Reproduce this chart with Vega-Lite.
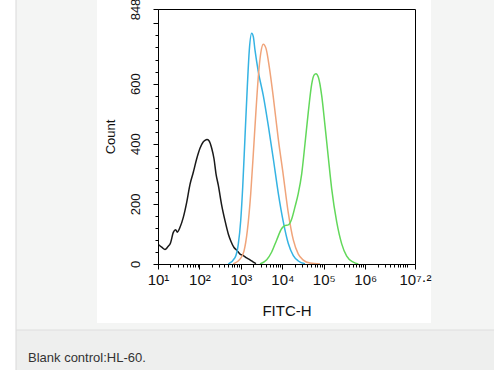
{
  "$schema": "https://vega.github.io/schema/vega-lite/v6.json",
  "width": 257,
  "height": 255,
  "autosize": {"type": "none"},
  "padding": {"left": 158, "top": 9, "right": 79, "bottom": 106},
  "background": "white",
  "config": {"view": {"stroke": "#000", "strokeWidth": 1}, "font": "Liberation Sans"},
  "title": {"text": "Blank control:HL-60.", "orient": "bottom", "anchor": "start", "frame": "group", "dx": -130, "offset": -18, "fontSize": 13, "fontWeight": "normal", "font": "Liberation Sans", "color": "#333333", "zindex": 1},
  "layer": [
    {
      "data": {"values": [
        {"series": "Blank control", "fitc": 10.17, "count": 65},
        {"series": "Blank control", "fitc": 12.49, "count": 55},
        {"series": "Blank control", "fitc": 14.75, "count": 48},
        {"series": "Blank control", "fitc": 17.43, "count": 58},
        {"series": "Blank control", "fitc": 20.03, "count": 70},
        {"series": "Blank control", "fitc": 23.39, "count": 105},
        {"series": "Blank control", "fitc": 26.73, "count": 114},
        {"series": "Blank control", "fitc": 29.22, "count": 106},
        {"series": "Blank control", "fitc": 33.95, "count": 122},
        {"series": "Blank control", "fitc": 40.76, "count": 155},
        {"series": "Blank control", "fitc": 49.24, "count": 205},
        {"series": "Blank control", "fitc": 59.16, "count": 265},
        {"series": "Blank control", "fitc": 71.06, "count": 305},
        {"series": "Blank control", "fitc": 85.82, "count": 350},
        {"series": "Blank control", "fitc": 103.1, "count": 385},
        {"series": "Blank control", "fitc": 121.8, "count": 405},
        {"series": "Blank control", "fitc": 136.1, "count": 411},
        {"series": "Blank control", "fitc": 152.1, "count": 414},
        {"series": "Blank control", "fitc": 169.9, "count": 410},
        {"series": "Blank control", "fitc": 197.5, "count": 385},
        {"series": "Blank control", "fitc": 224.4, "count": 350},
        {"series": "Blank control", "fitc": 250.7, "count": 300},
        {"series": "Blank control", "fitc": 284.9, "count": 262},
        {"series": "Blank control", "fitc": 344.2, "count": 195},
        {"series": "Blank control", "fitc": 413.4, "count": 144},
        {"series": "Blank control", "fitc": 496.5, "count": 100},
        {"series": "Blank control", "fitc": 576.9, "count": 75},
        {"series": "Blank control", "fitc": 681.4, "count": 55},
        {"series": "Blank control", "fitc": 805.2, "count": 45},
        {"series": "Blank control", "fitc": 951.0, "count": 33},
        {"series": "Blank control", "fitc": 1142, "count": 28},
        {"series": "Blank control", "fitc": 1380, "count": 20},
        {"series": "Blank control", "fitc": 1657, "count": 14},
        {"series": "Blank control", "fitc": 1958, "count": 7},
        {"series": "Blank control", "fitc": 2313, "count": 1},
        {"series": "Control 1", "fitc": 496.5, "count": 0},
        {"series": "Control 1", "fitc": 720.3, "count": 21},
        {"series": "Control 1", "fitc": 865.5, "count": 66},
        {"series": "Control 1", "fitc": 988.8, "count": 144},
        {"series": "Control 1", "fitc": 1105, "count": 255},
        {"series": "Control 1", "fitc": 1255, "count": 422},
        {"series": "Control 1", "fitc": 1427, "count": 589},
        {"series": "Control 1", "fitc": 1594, "count": 711},
        {"series": "Control 1", "fitc": 1821, "count": 767},
        {"series": "Control 1", "fitc": 1991, "count": 756},
        {"series": "Control 1", "fitc": 2188, "count": 711},
        {"series": "Control 1", "fitc": 2628, "count": 640},
        {"series": "Control 1", "fitc": 3470, "count": 560},
        {"series": "Control 1", "fitc": 4581, "count": 460},
        {"series": "Control 1", "fitc": 6046, "count": 350},
        {"series": "Control 1", "fitc": 7985, "count": 235},
        {"series": "Control 1", "fitc": 10540, "count": 140},
        {"series": "Control 1", "fitc": 13910, "count": 68},
        {"series": "Control 1", "fitc": 18370, "count": 28},
        {"series": "Control 1", "fitc": 24250, "count": 10},
        {"series": "Control 1", "fitc": 35180, "count": 1},
        {"series": "Control 2", "fitc": 655.4, "count": 0},
        {"series": "Control 2", "fitc": 951, "count": 16},
        {"series": "Control 2", "fitc": 1188, "count": 43},
        {"series": "Control 2", "fitc": 1427, "count": 110},
        {"series": "Control 2", "fitc": 1723, "count": 233},
        {"series": "Control 2", "fitc": 1991, "count": 366},
        {"series": "Control 2", "fitc": 2313, "count": 511},
        {"series": "Control 2", "fitc": 2628, "count": 622},
        {"series": "Control 2", "fitc": 3003, "count": 700},
        {"series": "Control 2", "fitc": 3470, "count": 731},
        {"series": "Control 2", "fitc": 4030, "count": 717},
        {"series": "Control 2", "fitc": 4843, "count": 655},
        {"series": "Control 2", "fitc": 6046, "count": 555},
        {"series": "Control 2", "fitc": 7985, "count": 415},
        {"series": "Control 2", "fitc": 10540, "count": 295},
        {"series": "Control 2", "fitc": 13910, "count": 170},
        {"series": "Control 2", "fitc": 18370, "count": 80},
        {"series": "Control 2", "fitc": 24250, "count": 33},
        {"series": "Control 2", "fitc": 32020, "count": 13},
        {"series": "Control 2", "fitc": 46440, "count": 3},
        {"series": "Control 2", "fitc": 80930, "count": 0},
        {"series": "Antibody", "fitc": 2888, "count": 0},
        {"series": "Antibody", "fitc": 4192, "count": 14},
        {"series": "Antibody", "fitc": 5533, "count": 40},
        {"series": "Antibody", "fitc": 7305, "count": 80},
        {"series": "Antibody", "fitc": 9643, "count": 118},
        {"series": "Antibody", "fitc": 11580, "count": 128},
        {"series": "Antibody", "fitc": 13910, "count": 130},
        {"series": "Antibody", "fitc": 16810, "count": 150},
        {"series": "Antibody", "fitc": 20180, "count": 190},
        {"series": "Antibody", "fitc": 24250, "count": 235},
        {"series": "Antibody", "fitc": 29290, "count": 300},
        {"series": "Antibody", "fitc": 35180, "count": 400},
        {"series": "Antibody", "fitc": 42240, "count": 505},
        {"series": "Antibody", "fitc": 51050, "count": 598},
        {"series": "Antibody", "fitc": 58000, "count": 628},
        {"series": "Antibody", "fitc": 64800, "count": 633},
        {"series": "Antibody", "fitc": 73640, "count": 622},
        {"series": "Antibody", "fitc": 88950, "count": 560},
        {"series": "Antibody", "fitc": 106800, "count": 460},
        {"series": "Antibody", "fitc": 128300, "count": 355},
        {"series": "Antibody", "fitc": 155000, "count": 250},
        {"series": "Antibody", "fitc": 204700, "count": 140},
        {"series": "Antibody", "fitc": 270200, "count": 67},
        {"series": "Antibody", "fitc": 356700, "count": 26},
        {"series": "Antibody", "fitc": 514600, "count": 6},
        {"series": "Antibody", "fitc": 679000, "count": 0}
      ]},
      "mark": {"type": "line", "strokeWidth": 1.5, "interpolate": "monotone"},
      "encoding": {
        "x": {
          "field": "fitc", "type": "quantitative",
          "scale": {"type": "log", "domain": [10, 15848932], "nice": false},
          "axis": {
            "title": "FITC-H",
            "values": [10,20,30,40,50,60,70,80,90,100,200,300,400,500,600,700,800,900,1000,2000,3000,4000,5000,6000,7000,8000,9000,10000,20000,30000,40000,50000,60000,70000,80000,90000,100000,200000,300000,400000,500000,600000,700000,800000,900000,1000000,2000000,3000000,4000000,5000000,6000000,7000000,8000000,9000000,10000000,15848932],
            "tickCount": 200,
            "labelExpr": "datum.value > 1.5e7 ? '10⁷·²' : ((abs(log(datum.value)/LN10 - round(log(datum.value)/LN10)) < 0.001 && datum.value < 5e6) ? '10' + ['⁰','¹','²','³','⁴','⁵','⁶'][round(log(datum.value)/LN10)] : '')",
            "tickSize": {"condition": {"test": "(abs(log(datum.value)/LN10 - round(log(datum.value)/LN10)) < 0.001 && datum.value < 5e6) || datum.value > 1.5e7", "value": 5}, "value": 3},
            "tickColor": "#000", "domainColor": "#000", "grid": false,
            "labelFontSize": 15, "labelColor": "#111", "labelPadding": 3,
            "labelOverlap": false, "labelFlush": false, "labelBound": false,
            "titleFontSize": 15, "titleFontWeight": "normal", "titleColor": "#111", "titlePadding": 16,
            "zindex": 1
          }
        },
        "y": {
          "field": "count", "type": "quantitative",
          "scale": {"domain": [0, 848], "nice": false, "zero": false},
          "axis": {
            "title": "Count",
            "values": [0,40,80,120,160,200,240,280,320,360,400,440,480,520,560,600,640,680,720,760,800,848],
            "tickCount": 200,
            "labelExpr": "(datum.value == 0 || datum.value == 200 || datum.value == 400 || datum.value == 600 || datum.value == 848) ? datum.label : ''",
            "tickSize": {"condition": {"test": "datum.value % 200 == 0 || datum.value == 848", "value": 5}, "value": 3},
            "tickColor": "#000", "domainColor": "#000", "grid": false,
            "labelAngle": -90, "labelAlign": "center", "labelBaseline": "bottom",
            "labelFontSize": 13, "labelColor": "#111", "labelPadding": 11,
            "labelOverlap": false, "labelFlush": false, "labelBound": false,
            "titleFontSize": 13, "titleFontWeight": "normal", "titleColor": "#111", "titlePadding": 12,
            "zindex": 1
          }
        },
        "color": {
          "field": "series", "type": "nominal",
          "scale": {"domain": ["Blank control", "Control 1", "Control 2", "Antibody"], "range": ["#1a1a1a", "#35b3e3", "#f0a47a", "#62d85a"]},
          "legend": null
        }
      }
    },
    {
      "data": {"values": [{}]},
      "mark": {"type": "rect", "fill": "#f4f5f4", "clip": false},
      "encoding": {
        "x": {"datum": 0.003753, "type": "quantitative", "scale": {"type": "log", "domain": [10, 15848932], "nice": false}},
        "x2": {"datum": 0.3376},
        "y": {"datum": 877.9, "type": "quantitative", "scale": {"domain": [0, 848], "nice": false, "zero": false}},
        "y2": {"datum": -219.5}
      }
    },
    {
      "data": {"values": [{}]},
      "mark": {"type": "rect", "fill": "#f4f5f4", "clip": false},
      "encoding": {
        "x": {"datum": 38550000, "type": "quantitative", "scale": {"type": "log", "domain": [10, 15848932], "nice": false}},
        "x2": {"datum": 1276000000},
        "y": {"datum": 877.9, "type": "quantitative", "scale": {"domain": [0, 848], "nice": false, "zero": false}},
        "y2": {"datum": -219.5}
      }
    },
    {
      "data": {"values": [{}]},
      "mark": {"type": "rect", "fill": "#f4f5f4", "clip": false},
      "encoding": {
        "x": {"datum": 0.3376, "type": "quantitative", "scale": {"type": "log", "domain": [10, 15848932], "nice": false}},
        "x2": {"datum": 38550000},
        "y": {"datum": -196.2, "type": "quantitative", "scale": {"domain": [0, 848], "nice": false, "zero": false}},
        "y2": {"datum": -219.5}
      }
    },
    {
      "data": {"values": [{}]},
      "mark": {"type": "rect", "fill": "#eeefee", "clip": false},
      "encoding": {
        "x": {"datum": 0.003753, "type": "quantitative", "scale": {"type": "log", "domain": [10, 15848932], "nice": false}},
        "x2": {"datum": 1276000000},
        "y": {"datum": -219.5, "type": "quantitative", "scale": {"domain": [0, 848], "nice": false, "zero": false}},
        "y2": {"datum": -352.5}
      }
    },
    {
      "data": {"values": [{}]},
      "mark": {"type": "rule", "stroke": "#d9d9d9", "strokeWidth": 1, "clip": false},
      "encoding": {
        "x": {"datum": 0.003753, "type": "quantitative", "scale": {"type": "log", "domain": [10, 15848932], "nice": false}},
        "y": {"datum": 877.9, "type": "quantitative", "scale": {"domain": [0, 848], "nice": false, "zero": false}},
        "y2": {"datum": -352.5}
      }
    },
    {
      "data": {"values": [{}]},
      "mark": {"type": "rule", "stroke": "#dedede", "strokeWidth": 1, "clip": false},
      "encoding": {
        "x": {"datum": 0.003753, "type": "quantitative", "scale": {"type": "log", "domain": [10, 15848932], "nice": false}},
        "x2": {"datum": 1276000000},
        "y": {"datum": -219.5, "type": "quantitative", "scale": {"domain": [0, 848], "nice": false, "zero": false}}
      }
    }
  ]
}
